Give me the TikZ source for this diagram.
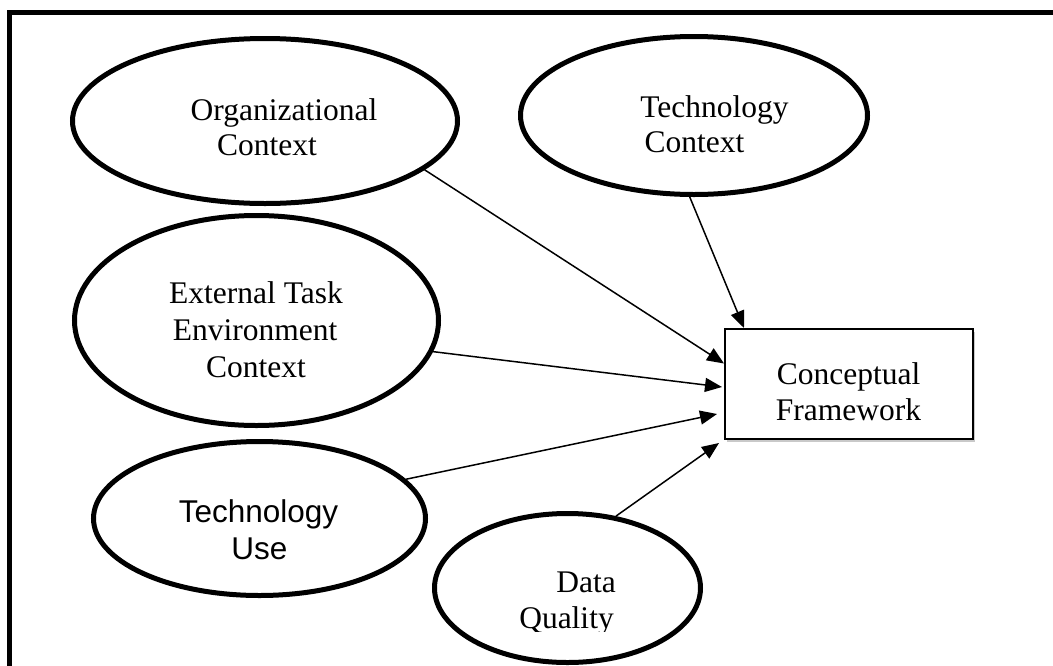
\documentclass[tikz,border=0pt]{standalone}
\usepackage{fontspec}
\setmainfont{Liberation Serif}
\newfontfamily\arialf{Liberation Sans}
\usetikzlibrary{shapes.geometric,arrows.meta,shadows}
\begin{document}
\begin{tikzpicture}[x=1pt,y=-1pt,
  oval/.style={draw, ellipse, line width=5pt, inner sep=0pt},
  txt/.style={inner sep=0pt, anchor=base, font=\fontsize{31.5}{36}\selectfont},
  stxt/.style={inner sep=0pt, anchor=base, font=\arialf\fontsize{31.5}{36}\selectfont},
  conn/.style={line width=1.5pt, -{Triangle[length=17pt,width=14pt]}},
  cfbox/.style={draw, rectangle, line width=2pt, fill=white, inner sep=0pt,
    drop shadow={shadow xshift=2pt, shadow yshift=-2.5pt, opacity=0.35, fill=black!60}}]
\useasboundingbox (0,0) rectangle (1053,665);
\fill[white] (0,0) rectangle (1053,665);
% frame
\draw[line width=4.7pt, line join=miter] (9.7,680) -- (9.7,12.3) -- (1070,12.3);
% ellipses
\node[oval, minimum width=385pt, minimum height=165pt] (org) at (265,121) {};
\node[oval, minimum width=347pt, minimum height=158pt] (tc) at (694,115.5) {};
\node[oval, minimum width=364pt, minimum height=210pt] (ete) at (256.5,320.5) {};
\node[oval, minimum width=332pt, minimum height=154pt] (tu) at (259.5,518.5) {};
\node[oval, minimum width=266pt, minimum height=149pt] (dq) at (567.5,588) {};
% box
\node[cfbox, minimum width=248pt, minimum height=110pt] (cf) at (849,384) {};
% texts
\node[txt] (orgA) at (284,120) {Organizational};
\node[txt] (orgB) at (267,155) {Context};
\node[txt] (tcA) at (714.5,117) {Technology};
\node[txt] (tcB) at (694.5,152) {Context};
\node[txt] (eteA) at (256,303) {External Task};
\node[txt] (eteB) at (255,340) {Environment};
\node[txt] (eteC) at (256,377) {Context};
\node[stxt] (tuA) at (258.5,522) {Technology};
\node[stxt] (tuB) at (259.5,559) {Use};
\node[txt] (cfA) at (848.5,384) {Conceptual};
\node[txt] (cfB) at (848.5,420) {Framework};
\begin{scope}
\clip (0,0) rectangle (1053,631);
\node[txt] (dqA) at (586,592) {Data};
\node[txt] (dqB) at (566.5,628) {Quality};
\end{scope}
% connectors
\draw[conn] (org.-17) -- ([yshift=20.5pt]cf.west);
\draw[conn] (tc.-93) -- ([xshift=20pt]cf.north west);
\draw[conn] (ete.-10) -- ([xshift=-2pt,yshift=-3pt]cf.west);
\draw[conn] (tu.15) -- ([xshift=-7pt,yshift=-30pt]cf.west);
\draw[conn] (dq.56) -- ([xshift=-5pt,yshift=-3pt]cf.south west);
\end{tikzpicture}
\end{document}
